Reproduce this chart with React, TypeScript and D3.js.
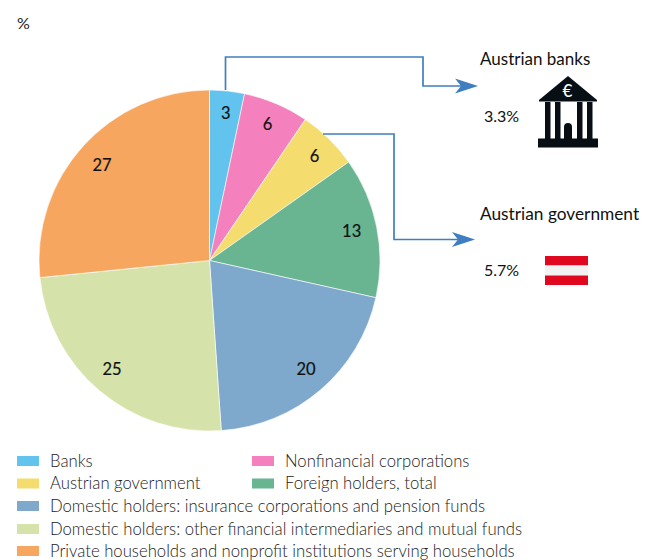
import React from "react";
import * as d3 from "d3";

const categories = ["Banks","Nonfinancial corporations","Austrian government","Foreign holders, total","Domestic holders: insurance corporations and pension funds","Domestic holders: other financial intermediaries and mutual funds","Private households and nonprofit institutions serving households"];
const values = [3.3, 6.2, 5.7, 13.3, 20.4, 24.5, 26.6];
const sliceLabels = ["3","6","6","13","20","25","27"];
const colors = ["#62c3ee","#f481bd","#f4dc6e","#69b592","#7ea8cc","#d5e3aa","#f6a65e"];
const legendX = [17, 252, 17, 252, 17, 17, 17];
const legendY = [461, 461, 483.5, 483.5, 506, 529, 551];

const FONT = "Lato, 'Open Sans', sans-serif";
const cx = 209.5, cy = 260.5, R = 170.5;
const BLUE = "#3f7fc1";
const labelRadius = [148, 148, 147, 145, 142, 145, 145];
const labelNudgeX = [1, 0, 2, 0, 4, -4, 0];
const labelNudgeY = [0, 0, 0, -1, 1, -2, 2];

function Arrow({ points, tip }: { points: [number, number][]; tip: [number, number] }) {
  const [x, y] = tip;
  return (
    <g>
      <path d={d3.line()(points) ?? ""} fill="none" stroke={BLUE} strokeWidth={1.7} />
      <path d={`M${x},${y} L${x - 23},${y - 7.5} L${x - 17},${y} L${x - 23},${y + 7.5} Z`} fill={BLUE} />
    </g>
  );
}

export default function App() {
  const pie = d3.pie<number>().sort(null)(values);
  const arc = d3.arc<d3.PieArcDatum<number>>().innerRadius(0).outerRadius(R);
  return (
    <svg width={655} height={560} style={{ position: "absolute", left: 0, top: 0, background: "#fff" }} fontFamily={FONT}>
      <text x={17} y={29} fontSize={16} fontWeight={400} fill="#222">%</text>

      <g transform={`translate(${cx},${cy})`}>
        {pie.map((d, i) => (
          <path key={i} d={arc(d) ?? ""} fill={colors[i]} stroke="#fff" strokeWidth={0.6} />
        ))}
        {pie.map((d, i) => {
          const r = labelRadius[i];
          const [x, y] = d3.arc<d3.PieArcDatum<number>>().innerRadius(r).outerRadius(r).centroid(d);
          return (
            <text key={i} x={x + labelNudgeX[i]} y={y + labelNudgeY[i]} dy="0.36em" textAnchor="middle" fontSize={16.5} fontWeight={400} stroke="#111" strokeWidth={0.2} fill="#111">{sliceLabels[i]}</text>
          );
        })}
      </g>

      <Arrow points={[[225.5, 90], [225.5, 57], [423, 57], [423, 86], [462, 86]]} tip={[478, 86]} />
      <Arrow points={[[323, 134], [394, 134], [394, 239.5], [460, 239.5]]} tip={[475, 239.5]} />

      <text x={480} y={65} fontSize={17} fill="#111">Austrian banks</text>
      <text x={484} y={122} fontSize={16} fill="#111">3.3%</text>
      <text x={480} y={220} fontSize={17.3} fill="#111">Austrian government</text>
      <text x={484} y={276} fontSize={16} fill="#111">5.7%</text>

      {/* bank icon */}
      <g fill="#070f14">
        <path d="M568,76 L597,100 L539,100 Z" />
        <rect x={539} y={100} width={58} height={1.5} />
        <rect x={545} y={102} width={5.5} height={37} />
        <rect x={555} y={102} width={5.5} height={37} />
        <rect x={577} y={102} width={5.5} height={37} />
        <rect x={587} y={102} width={5.5} height={37} />
        <path d="M564,139 L564,127 A4,4 0 0 1 572,127 L572,139 Z" />
        <rect x={538} y={138.5} width={60} height={9} />
      </g>
      <text x={567.5} y={97} textAnchor="middle" fontSize={17} fontWeight={500} fill="#fff">€</text>

      {/* flag */}
      <rect x={545} y={256} width={43} height={9.5} fill="#e0081f" />
      <rect x={545} y={265.5} width={43} height={10} fill="#f2f2f2" />
      <rect x={545} y={275.5} width={43} height={9.5} fill="#e0081f" />

      {categories.map((c, i) => (
        <g key={c}>
          <rect x={legendX[i]} y={legendY[i] - 5} width={22} height={10} fill={colors[i]} />
          <text x={legendX[i] + 33} y={legendY[i]} dy="0.35em" fontSize={16.7} fontWeight={300} fill="#222">{c}</text>
        </g>
      ))}
    </svg>
  );
}
